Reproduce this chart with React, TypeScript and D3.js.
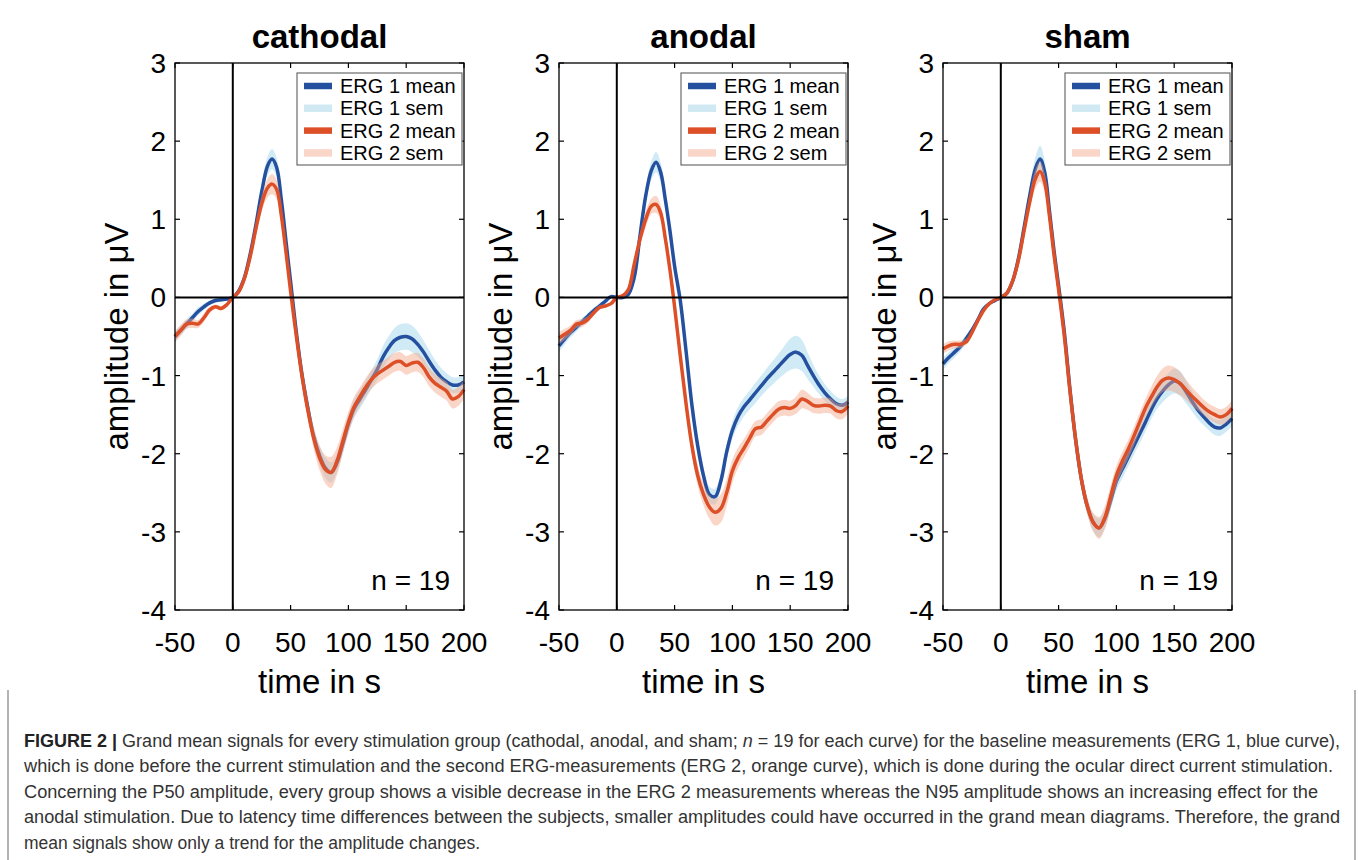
import React from 'react'
import * as d3 from 'd3'

// time axis (ms) shared by every curve
const times = [-50, -45, -40, -35, -30, -25, -20, -15, -10, -5, 0, 5, 10, 15, 20, 25, 30, 34, 38, 42, 46,
  50, 55, 60, 65, 70, 75, 80, 85, 90, 95, 100, 105, 110, 115, 120, 125, 130, 135, 140, 145,
  150, 155, 160, 165, 170, 175, 180, 185, 190, 195, 200]

const cathodalErg1 = [-0.50, -0.42, -0.34, -0.26, -0.18, -0.12, -0.07, -0.04, -0.03, -0.02,
  0.0, 0.08, 0.25, 0.55, 0.93, 1.35, 1.68, 1.77, 1.66, 1.25, 0.72,
  0.2, -0.45, -1.0, -1.42, -1.78, -2.02, -2.18, -2.24, -2.12, -1.88,
  -1.62, -1.42, -1.3, -1.18, -1.05, -0.92, -0.76, -0.64, -0.55, -0.51,
  -0.5, -0.53, -0.6, -0.7, -0.82, -0.93, -1.02, -1.08, -1.12, -1.12, -1.08]
const cathodalErg1Sem = [0.07, 0.06, 0.06, 0.05, 0.05, 0.04, 0.03, 0.03, 0.02, 0.01,
  0.0, 0.02, 0.04, 0.06, 0.08, 0.1, 0.12, 0.13, 0.12, 0.1, 0.09,
  0.08, 0.08, 0.09, 0.1, 0.11, 0.12, 0.13, 0.13, 0.12, 0.12,
  0.12, 0.12, 0.12, 0.12, 0.12, 0.13, 0.14, 0.15, 0.16, 0.17,
  0.17, 0.17, 0.16, 0.15, 0.14, 0.13, 0.12, 0.11, 0.1, 0.1, 0.1]
const cathodalErg2 = [-0.50, -0.42, -0.34, -0.33, -0.34, -0.26, -0.16, -0.12, -0.14, -0.09,
  0.0, 0.07, 0.24, 0.52, 0.88, 1.2, 1.4, 1.45, 1.38, 1.05, 0.58,
  0.08, -0.5, -1.02, -1.45, -1.8, -2.05, -2.2, -2.24, -2.1, -1.85,
  -1.6, -1.4, -1.27, -1.15, -1.05, -0.98, -0.93, -0.88, -0.83, -0.82,
  -0.87, -0.84, -0.83, -0.9, -1.02, -1.1, -1.15, -1.2, -1.3, -1.27, -1.18]
const cathodalErg2Sem = [0.07, 0.07, 0.06, 0.06, 0.05, 0.05, 0.04, 0.03, 0.03, 0.02,
  0.0, 0.02, 0.04, 0.06, 0.08, 0.1, 0.12, 0.13, 0.12, 0.11, 0.1,
  0.1, 0.1, 0.11, 0.12, 0.14, 0.16, 0.18, 0.2, 0.18, 0.16,
  0.14, 0.13, 0.12, 0.12, 0.12, 0.12, 0.12, 0.12, 0.12, 0.12,
  0.12, 0.12, 0.12, 0.12, 0.12, 0.12, 0.12, 0.12, 0.12, 0.12, 0.12]

const anodalErg1 = [-0.62, -0.53, -0.45, -0.38, -0.31, -0.24, -0.17, -0.11, -0.05, 0.01,
  0.0, 0.0, 0.04, 0.25, 0.78, 1.3, 1.63, 1.73, 1.6, 1.25, 0.85,
  0.4, -0.05, -0.7, -1.38, -1.9, -2.28, -2.52, -2.55, -2.35, -1.98,
  -1.7, -1.52, -1.4, -1.31, -1.22, -1.13, -1.04, -0.96, -0.88, -0.8,
  -0.73, -0.7, -0.74, -0.87, -1.0, -1.12, -1.22, -1.3, -1.36, -1.38, -1.34]
const anodalErg1Sem = [0.08, 0.07, 0.06, 0.06, 0.05, 0.04, 0.04, 0.03, 0.02, 0.01,
  0.0, 0.01, 0.03, 0.05, 0.08, 0.1, 0.12, 0.13, 0.12, 0.11, 0.1,
  0.09, 0.09, 0.1, 0.1, 0.1, 0.1, 0.1, 0.1, 0.1, 0.1,
  0.11, 0.12, 0.12, 0.12, 0.13, 0.13, 0.14, 0.15, 0.16, 0.18,
  0.2, 0.21, 0.2, 0.17, 0.14, 0.12, 0.11, 0.1, 0.09, 0.08, 0.08]
const anodalErg2 = [-0.52, -0.47, -0.42, -0.34, -0.33, -0.28, -0.2, -0.13, -0.11, -0.08,
  0.0, 0.02, 0.1, 0.42, 0.74, 1.0, 1.17, 1.19, 1.08, 0.75, 0.35,
  -0.12, -0.76, -1.37, -1.9, -2.28, -2.52, -2.68, -2.75, -2.7, -2.5,
  -2.22, -2.05, -1.93, -1.8, -1.68, -1.66, -1.58, -1.5, -1.43, -1.41,
  -1.42, -1.38, -1.3, -1.33, -1.38, -1.39, -1.38, -1.39, -1.45, -1.46, -1.39]
const anodalErg2Sem = [0.08, 0.07, 0.06, 0.05, 0.05, 0.04, 0.03, 0.03, 0.02, 0.01,
  0.0, 0.02, 0.04, 0.06, 0.08, 0.1, 0.1, 0.11, 0.1, 0.1, 0.1,
  0.1, 0.1, 0.11, 0.12, 0.13, 0.14, 0.15, 0.17, 0.18, 0.17,
  0.15, 0.13, 0.12, 0.11, 0.1, 0.1, 0.1, 0.1, 0.1, 0.1,
  0.1, 0.11, 0.12, 0.11, 0.1, 0.1, 0.1, 0.1, 0.1, 0.1, 0.1]

const shamErg1 = [-0.85, -0.77, -0.7, -0.63, -0.53, -0.42, -0.29, -0.15, -0.08, -0.04,
  0.0, 0.05, 0.2, 0.48, 0.88, 1.3, 1.65, 1.77, 1.6, 1.12, 0.6,
  0.15, -0.45, -1.2, -1.85, -2.35, -2.68, -2.88, -2.95, -2.83, -2.6,
  -2.35, -2.2, -2.05, -1.9, -1.75, -1.6, -1.44, -1.3, -1.2, -1.12,
  -1.07, -1.1, -1.2, -1.32, -1.43, -1.52, -1.6, -1.66, -1.67, -1.62, -1.55]
const shamErg1Sem = [0.08, 0.07, 0.07, 0.06, 0.05, 0.04, 0.03, 0.02, 0.02, 0.01,
  0.0, 0.02, 0.04, 0.06, 0.09, 0.12, 0.15, 0.17, 0.15, 0.12, 0.1,
  0.08, 0.08, 0.08, 0.09, 0.1, 0.1, 0.11, 0.12, 0.12, 0.12,
  0.12, 0.12, 0.12, 0.12, 0.12, 0.12, 0.12, 0.13, 0.14, 0.15,
  0.16, 0.16, 0.15, 0.13, 0.12, 0.11, 0.1, 0.1, 0.1, 0.1, 0.1]
const shamErg2 = [-0.66, -0.62, -0.6, -0.6, -0.57, -0.45, -0.3, -0.17, -0.08, -0.03,
  0.0, 0.05, 0.2, 0.46, 0.84, 1.22, 1.52, 1.61, 1.47, 1.05, 0.55,
  0.1, -0.5, -1.22, -1.85, -2.35, -2.68, -2.88, -2.95, -2.82, -2.55,
  -2.28, -2.1, -1.95, -1.78, -1.6, -1.42, -1.28, -1.15, -1.06, -1.03,
  -1.05, -1.1, -1.18, -1.26, -1.33, -1.4, -1.46, -1.5, -1.53, -1.5, -1.42]
const shamErg2Sem = [0.06, 0.06, 0.05, 0.05, 0.04, 0.04, 0.03, 0.02, 0.02, 0.01,
  0.0, 0.02, 0.04, 0.06, 0.08, 0.1, 0.12, 0.13, 0.12, 0.1, 0.09,
  0.08, 0.08, 0.08, 0.09, 0.1, 0.11, 0.12, 0.14, 0.15, 0.14,
  0.13, 0.12, 0.12, 0.12, 0.12, 0.12, 0.13, 0.14, 0.15, 0.16,
  0.16, 0.15, 0.13, 0.12, 0.11, 0.1, 0.1, 0.1, 0.1, 0.1, 0.1]

const panelTitles = ['cathodal', 'anodal', 'sham']
const xTicks = [-50, 0, 50, 100, 150, 200]
const yTicks = [3, 2, 1, 0, -1, -2, -3, -4]
const legendLabels = ['ERG 1 mean', 'ERG 1 sem', 'ERG 2 mean', 'ERG 2 sem']
const sampleSize = 19

const captionLines = [
  'which is done before the current stimulation and the second ERG-measurements (ERG 2, orange curve), which is done during the ocular direct current stimulation.',
  'Concerning the P50 amplitude, every group shows a visible decrease in the ERG 2 measurements whereas the N95 amplitude shows an increasing effect for the',
  'anodal stimulation. Due to latency time differences between the subjects, smaller amplitudes could have occurred in the grand mean diagrams. Therefore, the grand',
  'mean signals show only a trend for the amplitude changes.'
]
const captionEnds = [1340, 1333, 1318, 1340, 480]

/**
 * LAYOUT + COLOURS
 */
const W = 1358
const H = 860
const plotLefts = [175, 559, 943]
const plotW = 289
const plotTop = 63
const plotBottom = 610

const BLUE = '#24509f'
const BLUE_SEM = 'rgb(150,210,232)'
const ORANGE = '#dc4f27'
const ORANGE_SEM = 'rgb(245,165,135)'
const FONT = '"Liberation Sans", Arial, Helvetica, sans-serif'

type Series = { mean: number[]; sem: number[] }
const panels: { erg1: Series; erg2: Series }[] = [
  { erg1: { mean: cathodalErg1, sem: cathodalErg1Sem }, erg2: { mean: cathodalErg2, sem: cathodalErg2Sem } },
  { erg1: { mean: anodalErg1, sem: anodalErg1Sem }, erg2: { mean: anodalErg2, sem: anodalErg2Sem } },
  { erg1: { mean: shamErg1, sem: shamErg1Sem }, erg2: { mean: shamErg2, sem: shamErg2Sem } }
]

const yScale = d3.scaleLinear().domain([-4, 3]).range([plotBottom, plotTop])

const Panel = ({ index }: { index: number }) => {
  const left = plotLefts[index]
  const right = left + plotW
  const xScale = d3.scaleLinear().domain([-50, 200]).range([left, right])
  const { erg1, erg2 } = panels[index]

  const line = d3.line<number>()
    .x((_, i) => xScale(times[i]))
    .y(d => yScale(d))
    .curve(d3.curveCatmullRom.alpha(0.5))

  const band = (s: Series) => d3.area<number>()
    .x((_, i) => xScale(times[i]))
    .y0((d, i) => yScale(d - s.sem[i]))
    .y1((d, i) => yScale(d + s.sem[i]))
    .curve(d3.curveCatmullRom.alpha(0.5))(s.mean) || ''

  const cx = (left + right) / 2
  const tick = 5
  const legRight = right - 2
  const legLeft = legRight - 165
  const legTop = plotTop + 10
  const legendColors = [BLUE, '#d0e9f3', ORANGE, '#fad6c8']

  return (
    <g>
      <text x={cx} y={48} textAnchor='middle' fontSize={33} fontWeight='bold' fontFamily={FONT}>
        {panelTitles[index]}
      </text>

      <path d={band(erg1)} fill={BLUE_SEM} fillOpacity={0.45} />
      <path d={line(erg1.mean) || ''} fill='none' stroke={BLUE} strokeWidth={3.5} />
      <path d={band(erg2)} fill={ORANGE_SEM} fillOpacity={0.45} />
      <path d={line(erg2.mean) || ''} fill='none' stroke={ORANGE} strokeWidth={3.5} />

      {/* zero cross */}
      <line x1={left} x2={right} y1={yScale(0)} y2={yScale(0)} stroke='#000' strokeWidth={2} />
      <line x1={xScale(0)} x2={xScale(0)} y1={plotTop} y2={plotBottom} stroke='#000' strokeWidth={2} />

      {/* frame + inward ticks on all sides */}
      <rect x={left} y={plotTop} width={plotW} height={plotBottom - plotTop} fill='none' stroke='#000' strokeWidth={1.3} />
      {xTicks.map(t => (
        <g key={`xt${t}`}>
          <line x1={xScale(t)} x2={xScale(t)} y1={plotBottom} y2={plotBottom - tick} stroke='#000' strokeWidth={1.2} />
          <line x1={xScale(t)} x2={xScale(t)} y1={plotTop} y2={plotTop + tick} stroke='#000' strokeWidth={1.2} />
          <text x={xScale(t)} y={652} textAnchor='middle' fontSize={28} fontFamily={FONT}>{t}</text>
        </g>
      ))}
      {yTicks.map(v => (
        <g key={`yt${v}`}>
          <line x1={left} x2={left + tick} y1={yScale(v)} y2={yScale(v)} stroke='#000' strokeWidth={1.2} />
          <line x1={right} x2={right - tick} y1={yScale(v)} y2={yScale(v)} stroke='#000' strokeWidth={1.2} />
          <text x={left - 9} y={yScale(v) + 10} textAnchor='end' fontSize={28} fontFamily={FONT}>{v}</text>
        </g>
      ))}

      <text x={cx} y={693} textAnchor='middle' fontSize={33} fontFamily={FONT}>time in s</text>
      <text
        transform={`translate(${left - 47}, ${(plotTop + plotBottom) / 2}) rotate(-90)`}
        textAnchor='middle'
        fontSize={33}
        fontFamily={FONT}
      >
        amplitude in μV
      </text>

      {/* legend */}
      <rect x={legLeft} y={legTop} width={165} height={92} fill='#fff' stroke='#6b6b6b' strokeWidth={1.2} />
      {legendLabels.map((label, i) => {
        const base = legTop + 20 + i * 22.3
        return (
          <g key={label}>
            <line x1={legLeft + 7} x2={legLeft + 35} y1={base - 7} y2={base - 7}
              stroke={legendColors[i]} strokeWidth={i % 2 === 0 ? 6.5 : 7.5} />
            <text x={legLeft + 43} y={base} fontSize={20} fontFamily={FONT}>{label}</text>
          </g>
        )
      })}

      <text x={right - 14} y={590} textAnchor='end' fontSize={28} fontFamily={FONT}>n = {sampleSize}</text>
    </g>
  )
}

const App = () => {
  const capFont = '"Liberation Sans Narrow", "Liberation Sans", Arial, sans-serif'
  const capX = 24
  const baselines = [746.5, 772, 797.5, 823, 848.5]
  return (
    <svg width={W} height={H} viewBox={`0 0 ${W} ${H}`}
      style={{ position: 'absolute', left: 0, top: 0, background: '#fff' }}>
      <rect width={W} height={H} fill='#fff' />
      {panelTitles.map((_, i) => <Panel key={i} index={i} />)}

      {/* caption frame */}
      <line x1={8} x2={8} y1={690} y2={H} stroke='#8a8a8a' strokeWidth={1.3} />
      <line x1={1355} x2={1355} y1={690} y2={H} stroke='#8a8a8a' strokeWidth={1.3} />

      <text x={capX} y={baselines[0]} fontSize={17.5} fontFamily={capFont} fill='#333'
        textLength={captionEnds[0] - capX} lengthAdjust='spacingAndGlyphs'>
        <tspan fontWeight='bold' fill='#222'>FIGURE 2 | </tspan>
        <tspan>Grand mean signals for every stimulation group (cathodal, anodal, and sham; </tspan>
        <tspan fontStyle='italic'>n</tspan>
        <tspan> = 19 for each curve) for the baseline measurements (ERG 1, blue curve),</tspan>
      </text>
      {captionLines.map((l, i) => (
        <text key={i} x={capX} y={baselines[i + 1]} fontSize={17.5} fontFamily={capFont} fill='#333'
          textLength={captionEnds[i + 1] - capX} lengthAdjust='spacingAndGlyphs'>
          {l}
        </text>
      ))}
    </svg>
  )
}

export default App
